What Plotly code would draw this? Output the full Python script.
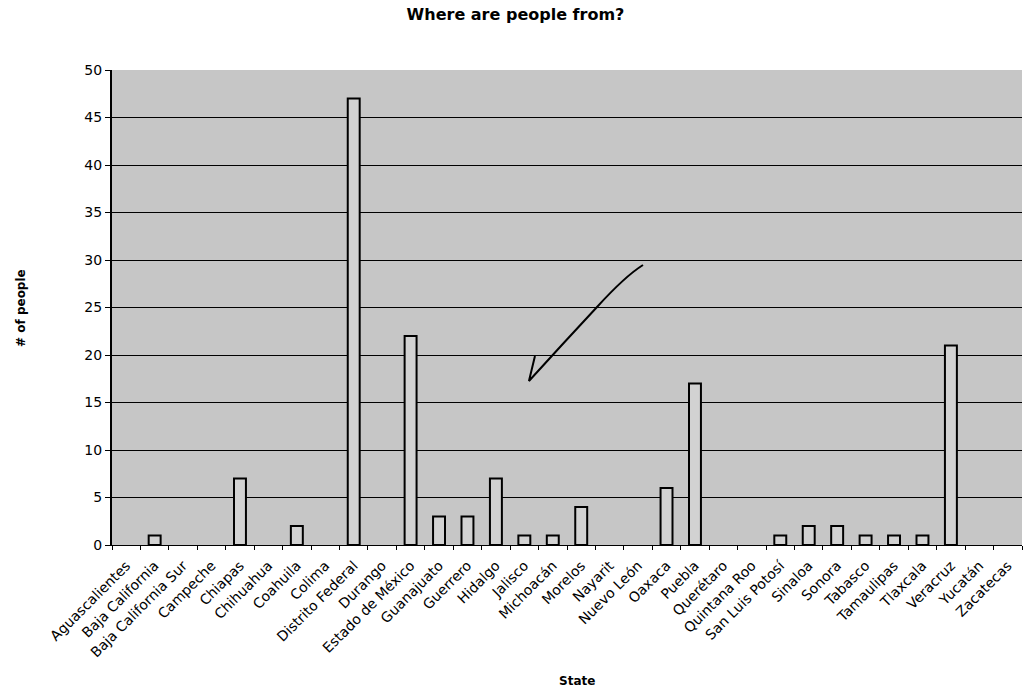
import plotly.graph_objects as go

states = [
    "Aguascalientes", "Baja California", "Baja California Sur", "Campeche",
    "Chiapas", "Chihuahua", "Coahuila", "Colima", "Distrito Federal",
    "Durango", "Estado de México", "Guanajuato", "Guerrero", "Hidalgo",
    "Jalisco", "Michoacán", "Morelos", "Nayarit", "Nuevo León", "Oaxaca",
    "Puebla", "Querétaro", "Quintana Roo", "San Luis Potosí", "Sinaloa",
    "Sonora", "Tabasco", "Tamaulipas", "Tlaxcala", "Veracruz", "Yucatán",
    "Zacatecas",
]
people = [
    0, 1, 0, 0, 7, 0, 2, 0, 47, 0, 22, 3, 3, 7, 1, 1, 4, 0, 0, 6, 17,
    0, 0, 1, 2, 2, 1, 1, 1, 21, 0, 0,
]
y_ticks = [0, 5, 10, 15, 20, 25, 30, 35, 40, 45, 50]

FONT = "DejaVu Sans, Liberation Sans, Arial, sans-serif"

# empty categories get no outline so nothing sits on the baseline
outline_widths = [2 if v > 0 else 0 for v in people]

fig = go.Figure(
    go.Bar(
        x=states,
        y=people,
        marker=dict(color="#d2d2d2", line=dict(color="black", width=outline_widths)),
        width=0.42,
    )
)

# hand-drawn pen arrow over the plot area (paper coordinates)
arrow_path = (
    "M 0.5835,0.5895 "
    "Q 0.5637,0.5657 0.5330,0.5011 "
    "Q 0.4960,0.4250 0.4582,0.3453 "
    "L 0.4648,0.3979"
)
fig.add_shape(
    type="path", xref="paper", yref="paper", path=arrow_path,
    line=dict(color="black", width=2),
)

# axis titles
fig.add_annotation(
    text="<b>State</b>", xref="paper", yref="paper", x=0.511, y=-0.286,
    xanchor="center", yanchor="middle", showarrow=False,
    font=dict(family=FONT, size=12, color="black"),
)
fig.add_annotation(
    text="<b># of people</b>", xref="paper", yref="paper", x=-0.100, y=0.499,
    xanchor="center", yanchor="middle", showarrow=False, textangle=-90,
    font=dict(family=FONT, size=12, color="black"),
)

fig.update_layout(
    width=1031,
    height=693,
    margin=dict(l=112, r=9, t=70, b=148),
    paper_bgcolor="white",
    plot_bgcolor="#c6c6c6",
    showlegend=False,
    font=dict(family=FONT, size=14, color="black"),
    title=dict(
        text="<b>Where are people from?</b>",
        x=0.5, xanchor="center", xref="container",
        y=1 - 14 / 693, yanchor="middle", yref="container",
        font=dict(family=FONT, size=16, color="black"),
    ),
    xaxis=dict(
        type="category",
        tickangle=-45,
        ticks="outside",
        tickson="boundaries",
        ticklen=4,
        tickcolor="black",
        showgrid=False,
        showline=True,
        linecolor="black",
        linewidth=1,
        automargin=False,
        ticklabelstandoff=6,
        tickfont=dict(family=FONT, size=14),
    ),
    yaxis=dict(
        range=[0, 50],
        tickvals=y_ticks,
        ticks="outside",
        ticklen=5,
        tickcolor="black",
        showgrid=True,
        gridcolor="black",
        gridwidth=1,
        showline=True,
        linecolor="black",
        linewidth=2,
        zeroline=False,
        automargin=False,
        tickfont=dict(family=FONT, size=14),
    ),
)

fig.write_html("out.html")
